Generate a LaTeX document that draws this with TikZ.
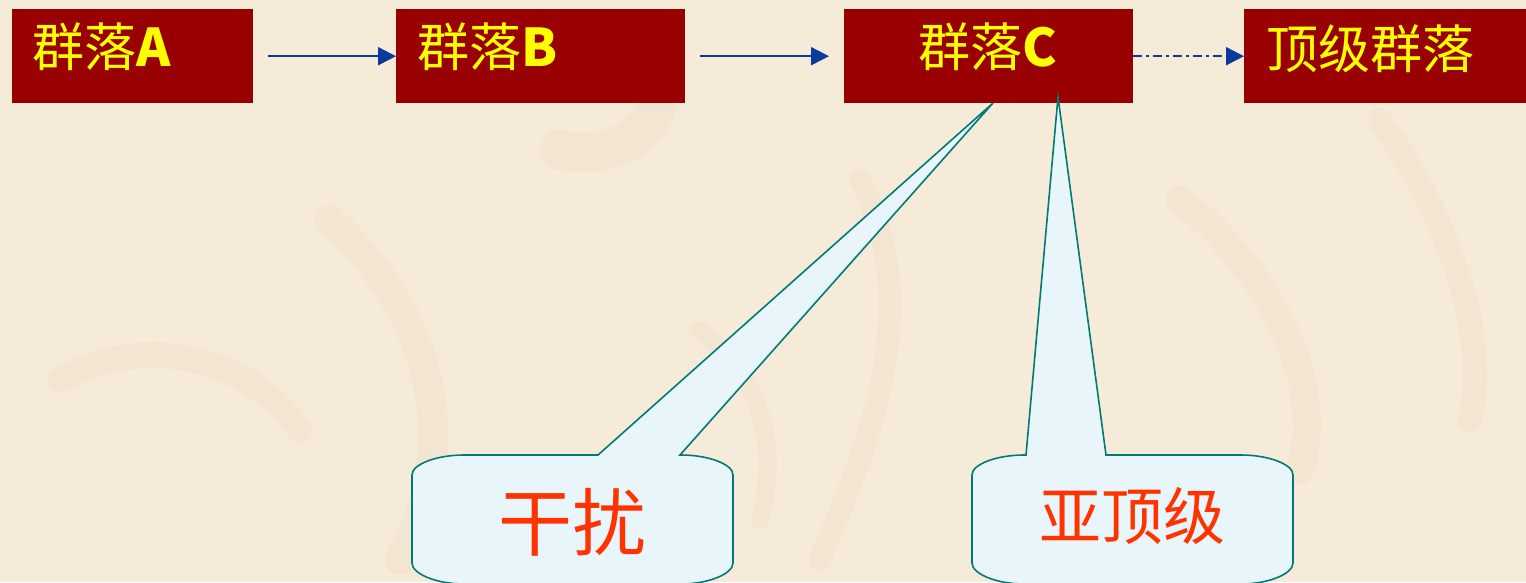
\documentclass[tikz,border=0pt]{standalone}
\usepackage{fontspec}
\setmainfont{Liberation Sans}
\newfontfamily\cjk{Noto Sans CJK SC}
\usetikzlibrary{arrows.meta}
\definecolor{bg}{HTML}{F6EBD9}
\definecolor{bgstroke}{HTML}{EADCC4}
\definecolor{boxred}{HTML}{990000}
\definecolor{ytext}{HTML}{FFFF00}
\definecolor{arrowblue}{HTML}{0A3A9A}
\definecolor{calloutfill}{HTML}{E8F6FC}
\definecolor{calloutline}{HTML}{007A76}
\definecolor{redtext}{HTML}{FF3300}
\begin{document}
\begin{tikzpicture}[x=1pt,y=-1pt,
  box/.style={fill=boxred, draw=none, minimum height=94pt, inner sep=0pt, anchor=north west},
  boxtext/.style={text=ytext, inner sep=0pt, font=\fontsize{52}{60}\selectfont},
  link/.style={draw=arrowblue, line width=1.9pt, -{Triangle[length=18pt,width=18pt]}},
  callout/.style={fill=calloutfill, draw=calloutline, line width=1.6pt, line join=miter},
  callouttext/.style={text=redtext, inner sep=0pt},
  bgline/.style={draw=bgstroke, line cap=round, opacity=0.3}
]
\useasboundingbox (0,0) rectangle (1526,582);
\begin{scope}
\clip (0,0) rectangle (1526,582);
\fill[bg] (0,0) rectangle (1526,582);
% faint calligraphy texture
\draw[bgline, line width=40pt] (560,150) .. controls (660,170) and (700,60) .. (600,40);
\draw[bgline, line width=30pt] (330,220) .. controls (420,300) and (470,430) .. (400,560);
\draw[bgline, line width=26pt] (60,380) .. controls (150,330) and (250,360) .. (300,430);
\draw[bgline, line width=22pt] (860,180) .. controls (920,300) and (880,420) .. (820,560);
\draw[bgline, line width=28pt] (1180,200) .. controls (1260,260) and (1330,380) .. (1300,470);
\draw[bgline, line width=24pt] (1380,120) .. controls (1450,220) and (1490,340) .. (1470,420);
\draw[bgline, line width=18pt] (700,330) .. controls (760,380) and (780,440) .. (760,520);

% boxes
\node[box, minimum width=241pt] (A) at (12,9) {};
\node[box, minimum width=289pt] (B) at (396,9) {};
\node[box, minimum width=289pt] (C) at (844,9) {};
\node[box, minimum width=290pt] (T) at (1244,9) {};

\node[boxtext, anchor=west] (tA) at (32,47) {\cjk 群落\textbf{A}};
\node[boxtext, anchor=west] (tB) at (417,47) {\cjk 群落\textbf{B}};
\node[boxtext] (tC) at (988,47) {\cjk 群落\textbf{C}};
\node[boxtext, anchor=west] (tT) at (1266,49) {\cjk 顶级群落};

% arrows
\path[link, shorten <=15pt] (A.east) -- (B.west);
\path[link, shorten <=15pt, shorten >=15pt] (B.east) -- (C.west);
\path[link, dash pattern=on 9pt off 4pt on 3pt off 4pt] (C.east) -- (T.west);

% callouts
\coordinate (tip1) at (993,103);
\coordinate (tip2) at (1058,97);
\path[callout] (598,455) -- (tip1) -- (680,455) -- (681,455)
  .. controls (708,455) and (733,464) .. (733,475) -- (733,563)
  .. controls (733,574) and (708,584) .. (681,584) -- (464,584)
  .. controls (437,584) and (412,574) .. (412,563) -- (412,475)
  .. controls (412,464) and (437,455) .. (464,455) -- cycle;
\path[callout] (1026,455) -- (tip2) -- (1106,455) -- (1241,455)
  .. controls (1268,455) and (1293,464) .. (1293,475) -- (1293,563)
  .. controls (1293,574) and (1268,584) .. (1241,584) -- (1024,584)
  .. controls (997,584) and (972,574) .. (972,563) -- (972,475)
  .. controls (972,464) and (997,455) .. (1024,455) -- cycle;

\node[callouttext, font=\fontsize{74}{84}\selectfont] (gr) at (572,522) {\cjk 干扰};
\node[callouttext, font=\fontsize{62}{72}\selectfont] (yd) at (1132,516) {\cjk 亚顶级};
\end{scope}
\end{tikzpicture}
\end{document}
